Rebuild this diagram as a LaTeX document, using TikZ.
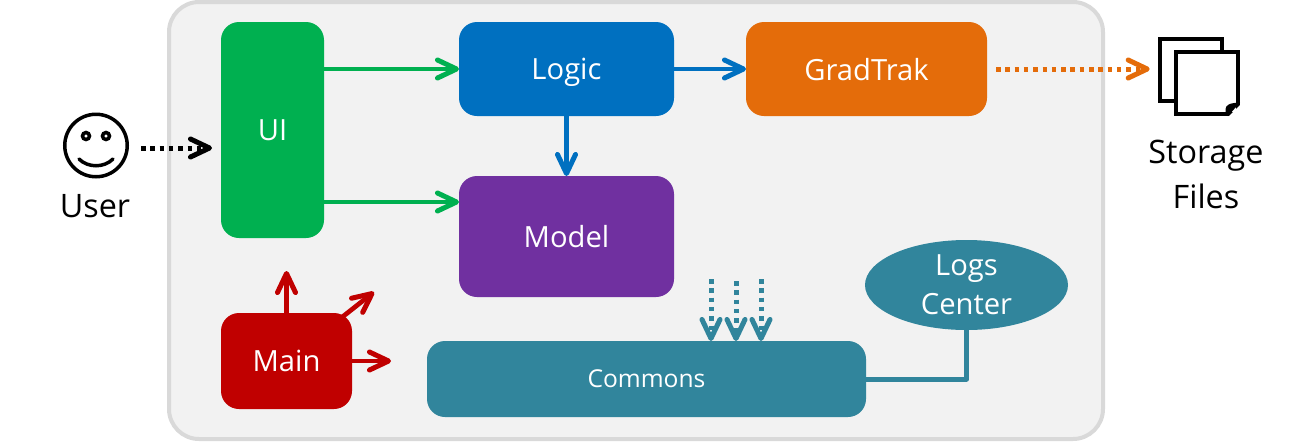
\documentclass[tikz,border=0pt]{standalone}
\usepackage{fontspec}
\setmainfont{Open Sans}
\usetikzlibrary{arrows.meta,shapes.geometric}
\definecolor{uigreen}{HTML}{00B050}
\definecolor{logicblue}{HTML}{0070C0}
\definecolor{trakorange}{HTML}{E46C0A}
\definecolor{modelpurple}{HTML}{7030A0}
\definecolor{mainred}{HTML}{C00000}
\definecolor{commonteal}{HTML}{31859C}
\definecolor{sysfill}{HTML}{F2F2F2}
\definecolor{sysline}{HTML}{D9D9D9}
\tikzset{
  block/.style={rounded corners=0.18cm, inner sep=0pt, outer sep=0pt, text=white, text depth=0pt, font=\fontsize{8.3}{10}\selectfont},
  outer/.style={font=\fontsize{9.2}{12.8}\selectfont, align=center, inner sep=0pt},
  link/.style={line width=0.047cm, -{Straight Barb[length=0.19cm,width=0.18cm,line width=0.05cm,round]}},
  dots/.style={link, line width=0.05cm, dash pattern=on 0.045cm off 0.048cm},
  sheet/.style={draw, fill=white, line width=0.04cm, inner sep=0pt, minimum width=0.62cm, minimum height=0.62cm}
}
\begin{document}
\begin{tikzpicture}[x=1cm,y=1cm]
\useasboundingbox (0,0) rectangle (13.01,-4.41);
\node[draw=sysline, fill=sysfill, line width=0.04cm, rounded corners=0.3cm, minimum width=9.34cm, minimum height=4.37cm] (system) at (6.36,-2.205) {};

% user
\node[draw, circle, line width=0.035cm, minimum size=0.625cm, inner sep=0pt] (face) at (0.96,-1.455) {};
\node[draw, circle, line width=0.035cm, minimum size=0.07cm, inner sep=0pt] (eyeL) at (0.86,-1.36) {};
\node[draw, circle, line width=0.035cm, minimum size=0.07cm, inner sep=0pt] (eyeR) at (1.06,-1.36) {};
\draw[line width=0.035cm, line cap=round] (0.79,-1.59) .. controls (0.88,-1.68) and (1.04,-1.68) .. (1.13,-1.59);
\node[outer] (user) at (0.95,-2.06) {User};

% storage
\node[sheet] (back) at (11.907,-0.703) {};
\node[sheet] (front) at (12.067,-0.83) {};
\fill[white] (12.43,-1.02) -- (12.43,-1.18) -- (12.27,-1.18) -- cycle;
\fill (12.40,-1.025) -- (12.28,-1.16) -- (12.255,-1.15) -- (12.255,-1.09) .. controls (12.26,-1.05) and (12.29,-1.03) .. cycle;
\node[outer] (storage) at (12.06,-1.74) {Storage\\Files};

% components
\node[block, fill=uigreen, minimum width=1.03cm, minimum height=2.16cm] (ui) at (2.725,-1.30) {UI};
\node[block, fill=logicblue, minimum width=2.15cm, minimum height=0.94cm] (logic) at (5.665,-0.69) {Logic};
\node[block, fill=trakorange, minimum width=2.41cm, minimum height=0.94cm] (gradtrak) at (8.665,-0.69) {GradTrak};
\node[block, fill=modelpurple, minimum width=2.15cm, minimum height=1.21cm] (model) at (5.665,-2.365) {Model};
\node[block, fill=mainred, minimum width=1.31cm, minimum height=0.96cm] (main) at (2.865,-3.61) {Main};
\node[block, fill=commonteal, minimum width=4.39cm, minimum height=0.76cm, font=\fontsize{7}{8}\selectfont] (commons) at (6.465,-3.79) {Commons};
\node[ellipse, fill=commonteal, text=white, inner sep=0pt, outer sep=0pt, minimum width=2.03cm, minimum height=0.90cm, align=center, font=\fontsize{8.3}{11}\selectfont] (logs) at (9.665,-2.85) {Logs\\Center};

\coordinate (userOut) at (1.41,-1.48);
\coordinate (modelIn) at (4.59,-2.02);
\coordinate (mainUp) at (2.865,-2.71);
\coordinate (mainDiag) at (3.74,-2.92);
\coordinate (mainRight) at (3.91,-3.61);
\coordinate (commonA) at (7.11,-2.79);
\coordinate (commonB) at (7.36,-2.81);
\coordinate (commonC) at (7.61,-2.79);

\draw[dots, shorten >=0.09cm] (userOut) -- (userOut -| ui.west);
\draw[link, uigreen] (ui.east |- logic.west) -- (logic.west);
\draw[link, uigreen] (modelIn -| ui.east) -- (modelIn);
\draw[link, logicblue] (logic.east) -- (gradtrak.west);
\draw[link, logicblue] (logic.south) -- (model.north);
\draw[dots, trakorange, shorten <=0.09cm, shorten >=0.08cm] (gradtrak.east) -- (gradtrak.east -| back.west);
\draw[link, mainred] (main.north) -- (mainUp);
\draw[link, mainred, shorten <=-0.08cm] (main) -- (mainDiag);
\draw[link, mainred] (main.east) -- (mainRight);
\draw[dots, commonteal] (commonA) -- (commonA |- commons.north);
\draw[dots, commonteal] (commonB) -- (commonB |- commons.north);
\draw[dots, commonteal] (commonC) -- (commonC |- commons.north);
\draw[commonteal, line width=0.05cm, line join=round] (logs.south) |- (commons.east);
\end{tikzpicture}
\end{document}
